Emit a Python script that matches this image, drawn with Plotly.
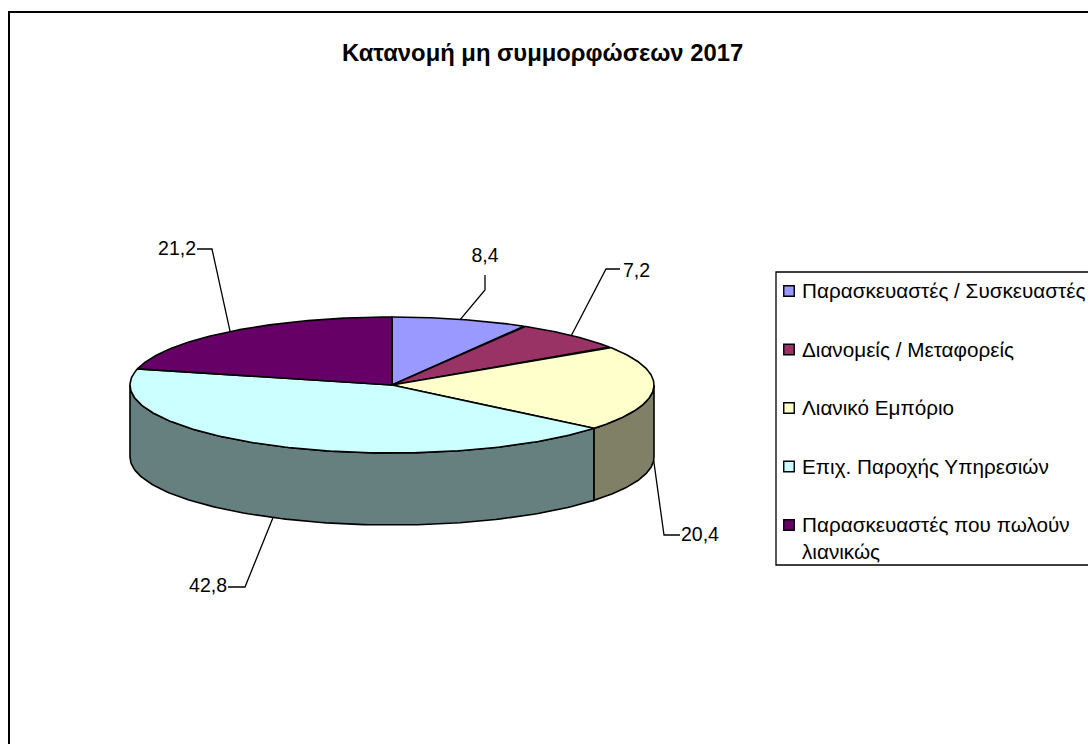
import numpy as np
import plotly.graph_objects as go

TITLE = "Κατανομή μη συμμορφώσεων 2017"
categories = ["Παρασκευαστές / Συσκευαστές", "Διανομείς / Μεταφορείς", "Λιανικό Εμπόριο",
              "Επιχ. Παροχής Υπηρεσιών", "Παρασκευαστές που πωλούν<br>λιανικώς"]
values = [8.4, 7.2, 20.4, 42.8, 21.2]
value_labels = ["8,4", "7,2", "20,4", "42,8", "21,2"]
top_colors = ["#9999FF", "#993366", "#FFFFCC", "#CCFFFF", "#660066"]
side_colors = ["#4C4C80", "#4C1933", "#808066", "#668080", "#330033"]

W, H = 1088, 744
CX, CY, RX, RY, DEPTH = 392, 385, 262, 68, 72
FONT = "Liberation Sans, Arial, sans-serif"
INK = "#000000"


def px(theta_deg, drop=0.0):
    t = np.radians(theta_deg)
    return CX + RX * np.sin(t), CY - RY * np.cos(t) + drop


fig = go.Figure()
shares = np.array(values) / sum(values) * 360
ends = np.cumsum(shares)
starts = ends - shares

# Side wall: only the front half of the ellipse (90..270 degrees) is visible
for a, b, c in zip(starts, ends, side_colors):
    lo, hi = max(a, 90), min(b, 270)
    if hi <= lo:
        continue
    th = np.linspace(lo, hi, 120)
    x0, y0 = px(th)
    x1, y1 = px(th[::-1], DEPTH)
    fig.add_trace(go.Scatter(x=np.r_[x0, x1, x0[0]], y=np.r_[y0, y1, y0[0]], mode="lines",
                             fill="toself", fillcolor=c, line=dict(color=INK, width=1.6),
                             hoverinfo="skip", showlegend=False))

# Top face
for a, b, c, name in zip(starts, ends, top_colors, categories):
    th = np.linspace(a, b, 160)
    x0, y0 = px(th)
    fig.add_trace(go.Scatter(x=np.r_[CX, x0, CX], y=np.r_[CY, y0, CY], mode="lines",
                             fill="toself", fillcolor=c, line=dict(color=INK, width=1.6),
                             name=name.replace("<br>", " "), hoverinfo="name", showlegend=False))

# Leader lines and value labels: elbow, end, label anchor
mids = (starts + ends) / 2
leader_angle = [mids[0], mids[1], mids[2], 207, mids[4]]
leader_drop = [0, 0, DEPTH, DEPTH, 0]
elbows = [[(485, 290), (485, 275)], [(606, 269), (620, 269)], [(664, 535), (680, 535)],
          [(245, 587), (228, 587)], [(212, 249), (197, 249)]]
label_pos = [(485, 257, "middle center"), (623, 272, "middle right"), (681, 536, "middle right"),
             (227, 587, "middle left"), (196, 250, "middle left")]
for ang, drop, el, lab, txt in zip(leader_angle, leader_drop, elbows, label_pos, value_labels):
    ax, ay = px(ang, drop)
    fig.add_trace(go.Scatter(x=[ax] + [p[0] for p in el], y=[ay] + [p[1] for p in el], mode="lines",
                             line=dict(color=INK, width=1.3), hoverinfo="skip", showlegend=False))
    fig.add_trace(go.Scatter(x=[lab[0]], y=[lab[1]], mode="text", text=[txt], textposition=lab[2],
                             textfont=dict(family=FONT, size=19.5, color=INK), hoverinfo="skip",
                             showlegend=False))

# Legend
LEG_L, LEG_T, LEG_B = 776, 272, 565
LEG_Y0, LEG_STEP = 291, 58.5
for i, (name, c) in enumerate(zip(categories, top_colors)):
    y = LEG_Y0 + i * LEG_STEP
    fig.add_trace(go.Scatter(x=[789], y=[y], mode="markers", hoverinfo="skip", showlegend=False,
                             marker=dict(symbol="square", size=10.5, color=c, line=dict(color=INK, width=1.4))))
    fig.add_annotation(x=801, y=y - 13, xref="x", yref="y", text=name, showarrow=False, xanchor="left",
                       yanchor="top", align="left", font=dict(family=FONT, size=20.7, color=INK),
                       borderpad=0)

fig.add_shape(type="rect", x0=LEG_L, x1=W + 10, y0=LEG_T, y1=LEG_B, line=dict(color=INK, width=1.3), layer="below")
fig.add_shape(type="rect", x0=9, x1=W + 10, y0=12, y1=H + 10, line=dict(color=INK, width=2), layer="below")

fig.add_annotation(x=542.5, y=52, xref="x", yref="y", text="<b>" + TITLE + "</b>", showarrow=False,
                   font=dict(family=FONT, size=23.8, color=INK))

fig.update_layout(width=W, height=H, margin=dict(l=0, r=0, t=0, b=0), paper_bgcolor="white",
                  plot_bgcolor="white", showlegend=False,
                  xaxis=dict(range=[0, W], visible=False, fixedrange=True),
                  yaxis=dict(range=[H, 0], visible=False, fixedrange=True))
fig.write_html("out.html", config=dict(displayModeBar=False),
               post_script="document.body.style.margin='0';document.body.style.overflow='hidden';")
